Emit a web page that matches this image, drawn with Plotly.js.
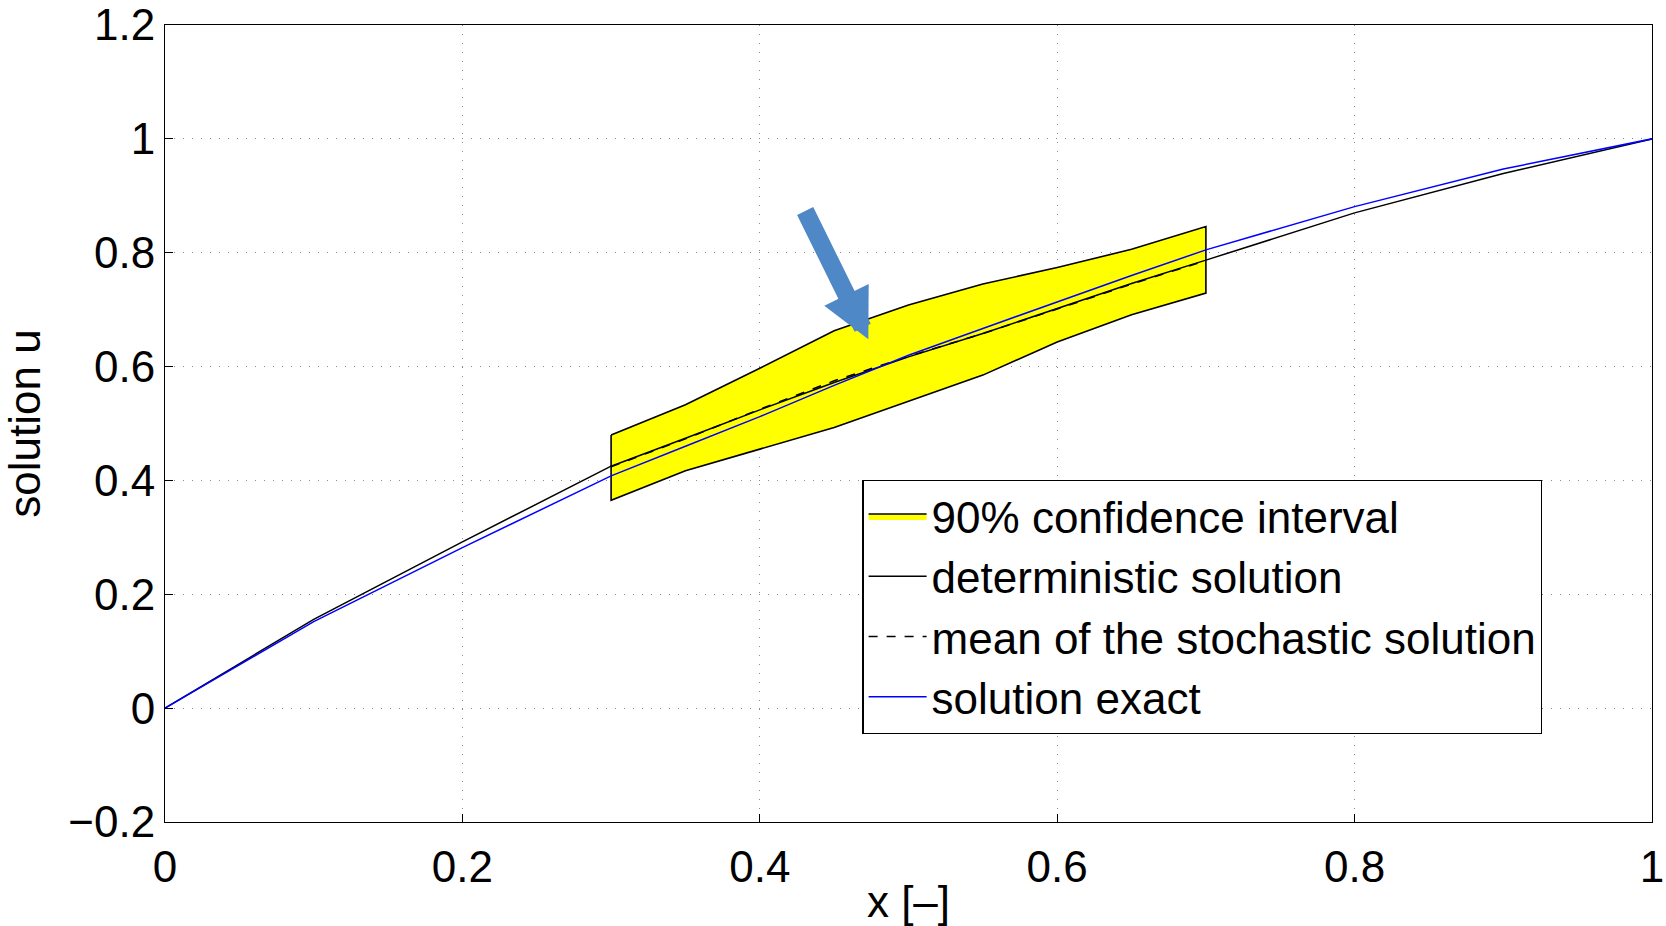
<!DOCTYPE html>
<html>
<head>
<meta charset="utf-8">
<script src="https://cdn.plot.ly/plotly-3.0.1.min.js"></script>
<style>html,body{margin:0;padding:0;background:#fff;}#chart{width:1666px;height:926px;}</style>
</head>
<body>
<div id="chart"></div>
<script>
// Exact solution
const exactX = [0, 0.1, 0.2, 0.3, 0.35, 0.4, 0.45, 0.5, 0.55, 0.6, 0.65, 0.7, 0.8, 0.9, 1.0];
const exactU = [0, 0.152, 0.282, 0.408, 0.460, 0.512, 0.567, 0.620, 0.667, 0.714, 0.760, 0.805, 0.881, 0.947, 1.0];
// Deterministic solution
const detX = [0, 0.1, 0.2, 0.3, 0.35, 0.4, 0.45, 0.5, 0.55, 0.6, 0.65, 0.7, 0.8, 0.9, 1.0];
const detU = [0, 0.156, 0.292, 0.425, 0.474, 0.524, 0.572, 0.617, 0.658, 0.702, 0.746, 0.787, 0.870, 0.939, 1.0];
// Mean of the stochastic solution
const meanX = [0.3, 0.35, 0.4, 0.45, 0.5, 0.55, 0.6, 0.65, 0.7];
const meanU = [0.424, 0.473, 0.525, 0.575, 0.618, 0.658, 0.701, 0.745, 0.786];
// 90% confidence interval
const ciX = [0.3, 0.35, 0.4, 0.45, 0.5, 0.55, 0.6, 0.65, 0.7];
const ciUpper = [0.480, 0.533, 0.597, 0.663, 0.708, 0.745, 0.774, 0.806, 0.846];
const ciLower = [0.365, 0.417, 0.455, 0.493, 0.539, 0.585, 0.643, 0.691, 0.729];
// Labels
const xTitle = "x [\u2013]";
const yTitle = "solution u";
const legendNames = ["90% confidence interval", "deterministic solution", "mean of the stochastic solution", "solution exact"];
// Arrow (annotation) tail and head, data coords
const arrowTail = [0.430, 0.876];
const arrowHead = [0.473, 0.648];

const polyX = ciX.concat(ciX.slice().reverse(), [ciX[0]]);
const polyY = ciUpper.concat(ciLower.slice().reverse(), [ciUpper[0]]);

const font = "Liberation Sans, Arial, Helvetica, sans-serif";

const traces = [
  {x: polyX, y: polyY, type: "scatter", mode: "lines", fill: "toself",
   fillcolor: "#ffff00", line: {color: "#000", width: 1.6}, name: legendNames[0]},
  {x: detX, y: detU, type: "scatter", mode: "lines",
   line: {color: "#000", width: 1.5}, name: legendNames[1]},
  {x: meanX, y: meanU, type: "scatter", mode: "lines",
   line: {color: "#000", width: 1.5, dash: "dash"}, name: legendNames[2]},
  {x: exactX, y: exactU, type: "scatter", mode: "lines",
   line: {color: "#0000ff", width: 1.5}, name: legendNames[3]}
];

const axisCommon = {
  showline: true, linecolor: "#000", linewidth: 1, mirror: true,
  ticks: "inside", ticklen: 8, tickcolor: "#000",
  showgrid: true, gridcolor: "#8a8a8a", griddash: "1px,8px", gridwidth: 1.2,
  zeroline: false, tickfont: {family: font, size: 44, color: "#000"}
};

const layout = {
  width: 1666, height: 926,
  margin: {l: 165, r: 14, t: 25, b: 104},
  paper_bgcolor: "#fff", plot_bgcolor: "#fff",
  font: {family: font, color: "#000"},
  showlegend: true,
  legend: {x: 0.469, y: 0.4294, xanchor: "left", yanchor: "top",
    bordercolor: "#000", borderwidth: 1.2, bgcolor: "#fff",
    font: {family: font, size: 44, color: "#000"}, itemwidth: 58,
    tracegroupgap: 0},
  xaxis: Object.assign({}, axisCommon, {range: [0, 1], tickvals: [0, 0.2, 0.4, 0.6, 0.8, 1],
    ticktext: ["0", "0.2", "0.4", "0.6", "0.8", "1"], ticklabelstandoff: 6,
    title: {text: xTitle, font: {family: font, size: 44, color: "#000"}, standoff: 4}}),
  yaxis: Object.assign({}, axisCommon, {range: [-0.2, 1.2], tickvals: [-0.2, 0, 0.2, 0.4, 0.6, 0.8, 1, 1.2],
    ticktext: ["\u22120.2", "0", "0.2", "0.4", "0.6", "0.8", "1", "1.2"], ticklabelstandoff: 0,
    title: {text: yTitle, font: {family: font, size: 44, color: "#000"}, standoff: 14}}),
  annotations: [{
    x: arrowHead[0], y: arrowHead[1], ax: arrowTail[0], ay: arrowTail[1],
    xref: "x", yref: "y", axref: "x", ayref: "y", text: "", showarrow: true,
    arrowhead: 2, arrowsize: 0.55, arrowwidth: 18, arrowcolor: "#4f88c6", standoff: 0
  }]
};

Plotly.newPlot("chart", traces, layout, {displayModeBar: false, staticPlot: true});
</script>
</body>
</html>
